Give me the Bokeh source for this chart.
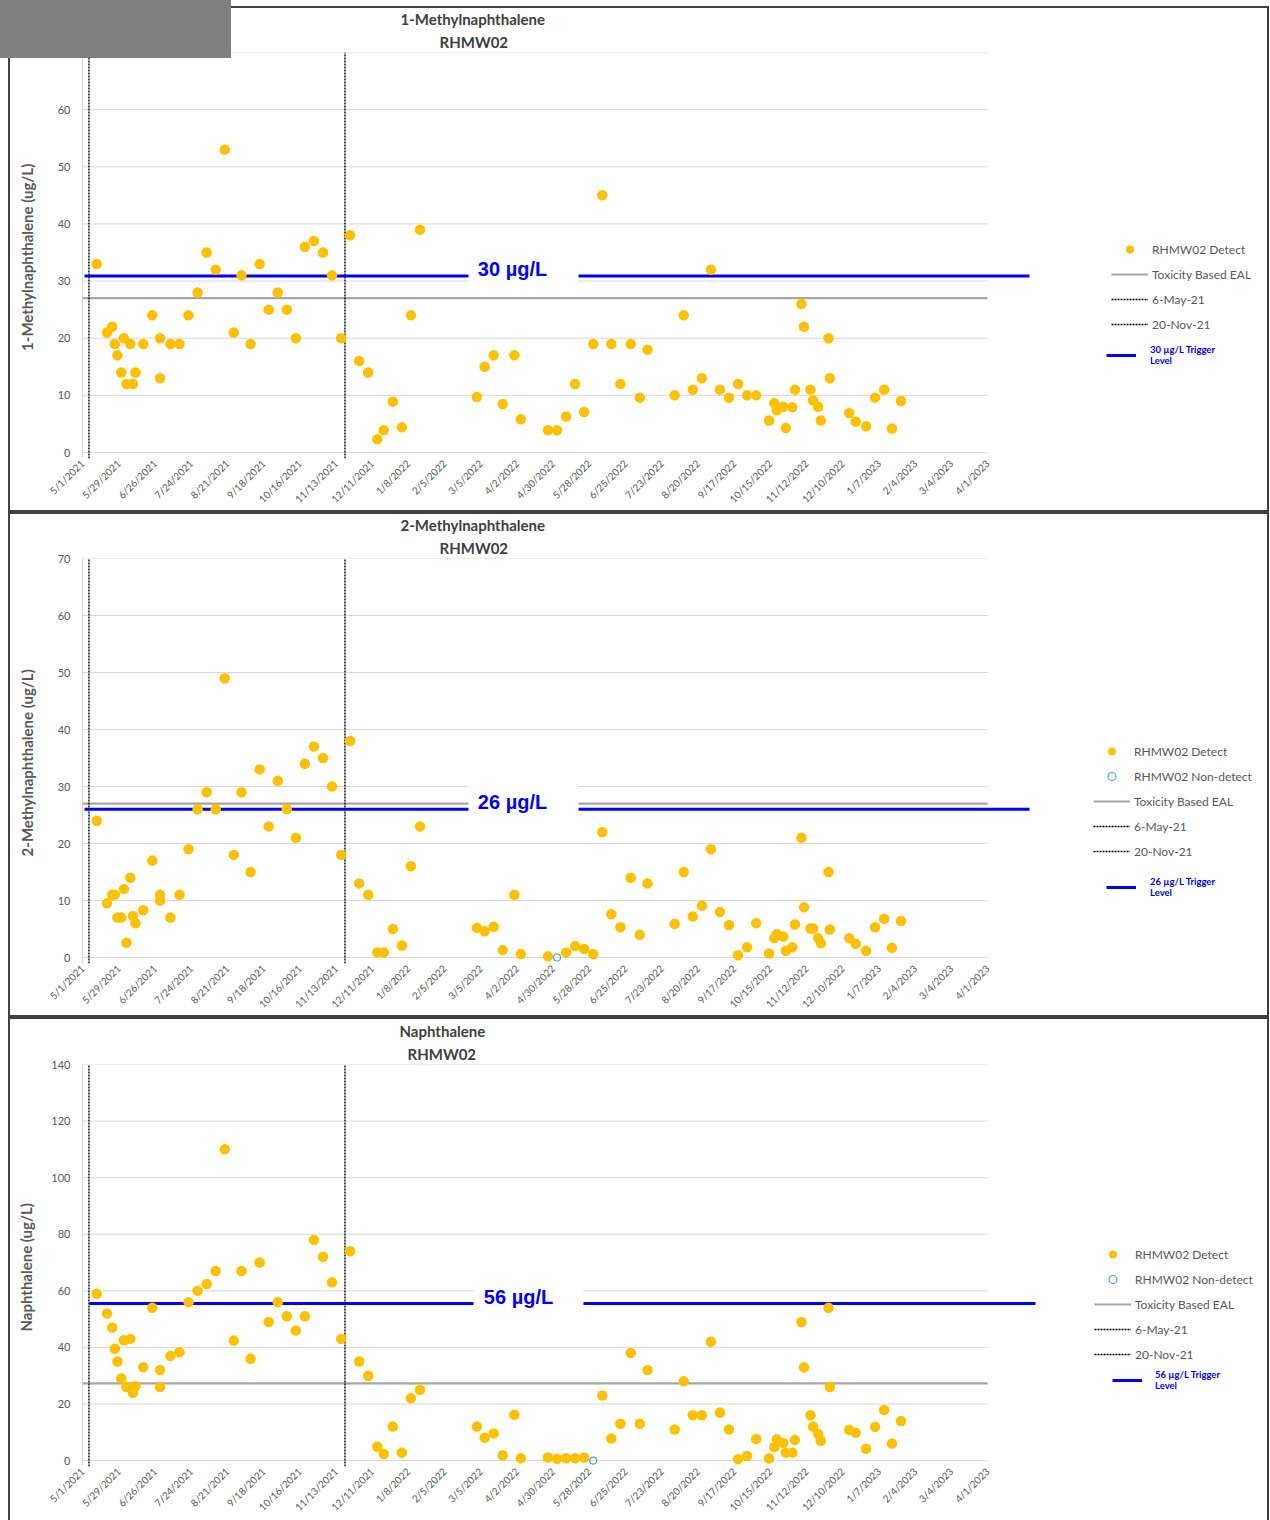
import math
import pandas as pd
from bokeh.plotting import figure
from bokeh.layouts import column
from bokeh.models import (Range1d, FixedTicker, Legend, LegendItem, Label, Title, Div,
                          BoxAnnotation, ColumnDataSource)
from bokeh.embed import file_html
from bokeh.resources import INLINE

# ---------------- data ----------------
well = "RHMW02"
chemicals = ["1-Methylnaphthalene", "2-Methylnaphthalene", "Naphthalene"]
y_axis_titles = ["1-Methylnaphthalene  (ug/L)", "2-Methylnaphthalene  (ug/L)", "Naphthalene  (ug/L)"]

sample_dates = [
    "2021-05-12", "2021-05-20", "2021-05-24", "2021-05-26", "2021-05-28", "2021-05-31", "2021-06-02", "2021-06-04", "2021-06-07", "2021-06-09",
    "2021-06-11", "2021-06-17", "2021-06-24", "2021-06-30", "2021-06-30", "2021-07-08", "2021-07-15", "2021-07-22", "2021-07-29", "2021-08-05",
    "2021-08-12", "2021-08-19", "2021-08-26", "2021-09-01", "2021-09-08", "2021-09-15", "2021-09-22", "2021-09-29", "2021-10-06", "2021-10-13",
    "2021-10-20", "2021-10-27", "2021-11-03", "2021-11-10", "2021-11-17", "2021-11-24", "2021-12-01", "2021-12-08", "2021-12-15", "2021-12-20",
    "2021-12-27", "2022-01-03", "2022-01-10", "2022-01-17", "2022-03-02", "2022-03-08", "2022-03-15", "2022-03-22", "2022-03-31", "2022-04-05",
    "2022-04-26", "2022-05-03", "2022-05-10", "2022-05-17", "2022-05-24", "2022-05-31", "2022-06-07", "2022-06-14", "2022-06-21", "2022-06-29",
    "2022-07-06", "2022-07-12", "2022-08-02", "2022-08-09", "2022-08-16", "2022-08-23", "2022-08-30", "2022-09-06", "2022-09-13", "2022-09-20",
    "2022-09-27", "2022-10-04", "2022-10-14", "2022-10-18", "2022-10-20", "2022-10-25", "2022-10-27", "2022-11-01", "2022-11-03", "2022-11-08",
    "2022-11-10", "2022-11-15", "2022-11-17", "2022-11-21", "2022-11-23", "2022-11-29", "2022-11-30", "2022-12-15", "2022-12-20", "2022-12-28",
    "2023-01-04", "2023-01-11", "2023-01-17", "2023-01-24",
]

methyl1_detect = [
    33, 21, 22, 19, 17, 14, 20, 12, 19, 12,
    14, 19, 24, 20, 13, 19, 19, 24, 28, 35,
    32, 53, 21, 31, 19, 33, 25, 28, 25, 20,
    36, 37, 35, 31, 20, 38, 16, 14, 2.3, 3.9,
    8.9, 4.4, 24, 39, 9.7, 15, 17, 8.5, 17, 5.8,
    3.9, 3.9, 6.3, 12, 7.1, 19, 45, 19, 12, 19,
    9.6, 18, 10, 24, 11, 13, 32, 11, 9.6, 12,
    10, 10, 5.6, 8.6, 7.4, 8, 4.3, 7.9, 11, 26,
    22, 11, 9.1, 8, 5.6, 20, 13, 6.9, 5.4, 4.6,
    9.6, 11, 4.2, 9,
]

methyl2_detect = [
    24, 9.5, 11, 11, 7, 7, 12, 2.6, 14, 7.3,
    6, 8.3, 17, 11, 10, 7, 11, 19, 26, 29,
    26, 49, 18, 29, 15, 33, 23, 31, 26, 21,
    34, 37, 35, 30, 18, 38, 13, 11, 0.9, 0.9,
    5, 2.1, 16, 23, 5.2, 4.6, 5.4, 1.3, 11, 0.6,
    0.2, None, 0.9, 2.0, 1.5, 0.6, 22, 7.6, 5.3, 14,
    4.0, 13, 5.9, 15, 7.2, 9.1, 19, 8.0, 5.7, 0.4,
    1.8, 6.0, 0.7, 3.4, 4.1, 3.7, 1.2, 1.8, 5.8, 21,
    8.8, 5.1, 5.1, 3.4, 2.5, 15, 4.9, 3.4, 2.4, 1.2,
    5.3, 6.8, 1.7, 6.4,
]

naph_detect = [
    59, 52, 47, 39.5, 35, 29, 42.5, 26, 43, 24,
    26.3, 33, 54, 32, 26, 37, 38.3, 56, 60, 62.4,
    67, 110, 42.4, 67, 36, 70, 49, 56, 51, 46,
    51, 78, 72, 63, 43, 74, 35, 30, 4.9, 2.3,
    12, 2.8, 22, 25, 12, 8.1, 9.6, 1.9, 16.2, 0.8,
    1.1, 0.6, 0.8, 0.8, 1.1, None, 23, 7.8, 13, 38,
    13, 32, 11, 28, 16, 16, 42, 17, 11, 0.5,
    1.6, 7.6, 0.7, 4.8, 7.5, 6.2, 2.8, 2.8, 7.3, 49,
    33, 16, 12, 9.4, 7, 54, 26, 10.9, 9.8, 4.2,
    11.9, 17.9, 6, 14,
]

methyl2_nondetect_dates = ["2022-05-03"]
methyl2_nondetect = [0.0]
naph_nondetect_dates = ["2022-05-31"]
naph_nondetect = [0.0]

x_tick_labels = ["5/1/2021", "5/29/2021", "6/26/2021", "7/24/2021", "8/21/2021", "9/18/2021",
                 "10/16/2021", "11/13/2021", "12/11/2021", "1/8/2022", "2/5/2022", "3/5/2022",
                 "4/2/2022", "4/30/2022", "5/28/2022", "6/25/2022", "7/23/2022", "8/20/2022",
                 "9/17/2022", "10/15/2022", "11/12/2022", "12/10/2022", "1/7/2023", "2/4/2023",
                 "3/4/2023", "4/1/2023"]

event_dates = ["2021-05-06", "2021-11-20"]
event_labels = ["6-May-21", "20-Nov-21"]

trigger_levels = [30, 26, 56]          # labelled trigger levels (ug/L)
trigger_line_y = [30.9, 26.0, 55.5]    # where the blue line is drawn in the picture
eal_levels = [27, 27, 27.3]            # Toxicity Based EAL line
y_max = [70, 70, 140]
y_step = [10, 10, 20]

detect_series = [methyl1_detect, methyl2_detect, naph_detect]
nondetect_series = [None, (methyl2_nondetect_dates, methyl2_nondetect), (naph_nondetect_dates, naph_nondetect)]

# ---------------- layout / style ----------------
FIG_W = 1270
FRAME_LEFT_PAGE = 82          # page x of the frame's left edge (5/1/2021)
BORDER_LEFT = FRAME_LEFT_PAGE
FRAME_W = FIG_W - BORDER_LEFT
PX_PER_DAY = 1.293
GRID_PX = 400                 # pixels from 0 to the top gridline
PAD_PX = 6                    # frame extension below zero
PANEL_H = [512, 505, 503]
PANEL_TOP = [52, 46, 47]
FONT = "Lato"
GRAY_TXT = "#595959"
GOLD = "#FFC000"
BLUE = "#0000FF"

TITLE_LEFT = [(400, 439), (400, 439), (399, 407)]
TITLE_STANDOFF = (2, 4)
TRIG_TEXT_X = [512, 512, 518]
TRIG_GAP = [(468, 578), (468, 578), (473, 583)]
TRIG_SPAN = [(84, 1029), (84, 1029), (89, 1035)]
LEGA_X = [1111, 1093, 1094]
LEGA_TOP = [239, 742, 1248]
LEGB_X = [1106, 1106, 1112]
LEGB_TOP = [342, 875, 1371]
LEGB_STANDOFF = [14, 14, 13]
YLABEL_STANDOFF = [19, 19, 13]
PANEL_BOXES = [(8, 6, 1269, 512), (8, 512, 1269, 1017), (8, 1017, 1269, 1524)]
REDACT_BOX = (0, 0, 231, 58)


def to_ms(values, fmt=None):
    ts = pd.to_datetime(pd.Series(values, dtype="object"), format=fmt)
    return [int((t - pd.Timestamp("1970-01-01")) // pd.Timedelta(milliseconds=1)) for t in ts]


tick_ms = to_ms(x_tick_labels, "%m/%d/%Y")
event_ms = to_ms(event_dates)
sample_ms = to_ms(sample_dates)
DAY_MS = 86400000.0
x_start = tick_ms[0]
x_end = x_start + FRAME_W / PX_PER_DAY * DAY_MS


def page_to_ms(px):
    return x_start + (px - FRAME_LEFT_PAGE) / PX_PER_DAY * DAY_MS


children = []
page_top = 0
for i in range(3):
    H = PANEL_H[i]
    top = PANEL_TOP[i]
    ppu = GRID_PX / y_max[i]
    ymin = -PAD_PX / ppu
    frame_h = GRID_PX + PAD_PX
    bottom = H - top - frame_h
    frame_bottom_page = page_top + top + frame_h

    def fx(px):
        return px - FRAME_LEFT_PAGE

    def fy(py, fb=frame_bottom_page):
        return fb - py

    p = figure(width=FIG_W, height=H, output_backend="svg", toolbar_location=None,
               x_axis_type="datetime", title=None,
               x_range=Range1d(x_start, x_end), y_range=Range1d(ymin, y_max[i]),
               min_border_left=BORDER_LEFT, min_border_right=0,
               min_border_top=top, min_border_bottom=bottom)
    p.xgrid.visible = False
    p.ygrid.visible = False
    p.outline_line_color = None
    p.background_fill_color = "white"
    p.border_fill_color = "white"

    # axes
    yt = list(range(0, y_max[i] + 1, y_step[i]))
    p.yaxis.ticker = FixedTicker(ticks=yt)
    p.yaxis.axis_line_color = "#D9D9D9"
    p.yaxis.major_tick_line_color = None
    p.yaxis.minor_tick_line_color = None
    p.yaxis.major_label_text_color = GRAY_TXT
    p.yaxis.major_label_text_font = FONT
    p.yaxis.major_label_text_font_size = "11px"
    p.yaxis.major_label_standoff = 6
    p.yaxis.axis_label = y_axis_titles[i]
    p.yaxis.axis_label_text_font = FONT
    p.yaxis.axis_label_text_font_style = "bold"
    p.yaxis.axis_label_text_font_size = "15px"
    p.yaxis.axis_label_text_color = GRAY_TXT
    p.yaxis.axis_label_standoff = YLABEL_STANDOFF[i]

    p.xaxis.ticker = FixedTicker(ticks=tick_ms)
    p.xaxis.major_label_overrides = {ms: lab for ms, lab in zip(tick_ms, x_tick_labels)}
    p.xaxis.major_label_orientation = math.pi / 4
    p.xaxis.axis_line_color = None
    p.xaxis.major_tick_line_color = None
    p.xaxis.minor_tick_line_color = None
    p.xaxis.major_label_text_color = GRAY_TXT
    p.xaxis.major_label_text_font = FONT
    p.xaxis.major_label_text_font_size = "10px"
    p.xaxis.major_label_standoff = -3

    # titles (inner line first: it sits closest to the plot)
    for txt, left, so in zip([well, chemicals[i]], reversed(TITLE_LEFT[i]), reversed(TITLE_STANDOFF)):
        p.add_layout(Title(text=txt, align="left", offset=left - FRAME_LEFT_PAGE, standoff=so,
                           text_font=FONT, text_font_style="bold", text_font_size="15px",
                           text_color="#404040"), "above")

    # gridlines
    p.segment(x0=[tick_ms[0]] * len(yt), x1=[tick_ms[-1]] * len(yt), y0=yt, y1=yt,
              line_color="#D9D9D9", line_width=1)

    # EAL line
    r_eal = p.segment(x0=[tick_ms[0]], x1=[tick_ms[-1]], y0=[eal_levels[i]], y1=[eal_levels[i]],
                      line_color="#A6A6A6", line_width=2.2)

    # event lines
    r_events = []
    for ems in event_ms:
        r = p.segment(x0=[ems], x1=[ems], y0=[ymin], y1=[y_max[i]], line_color="black",
                      line_width=1.4, line_dash="2 1")
        r_events.append(r)

    # trigger line
    t0, t1 = TRIG_SPAN[i]
    r_trig = p.segment(x0=[page_to_ms(t0)], x1=[page_to_ms(t1)],
                       y0=[trigger_line_y[i]], y1=[trigger_line_y[i]],
                       line_color=BLUE, line_width=3)

    # non-detects
    r_nd = None
    if nondetect_series[i] is not None:
        nd_dates, nd_vals = nondetect_series[i]
        r_nd = p.scatter(x="x", y="y",
                         source=ColumnDataSource(dict(x=to_ms(nd_dates), y=list(nd_vals))),
                         size=7, fill_color=None, line_color="#5B9BD5", line_width=1.2)

    # detects
    xs = [x for x, v in zip(sample_ms, detect_series[i]) if v is not None]
    ys = [v for v in detect_series[i] if v is not None]
    r_det = p.scatter(x="x", y="y", source=ColumnDataSource(dict(x=xs, y=ys)),
                      size=10.5, fill_color=GOLD, line_color=None)

    # white text box over the trigger line + label
    line_px = (trigger_line_y[i] - ymin) * ppu
    g0, g1 = TRIG_GAP[i]
    p.add_layout(BoxAnnotation(left=fx(g0), right=fx(g1), bottom=line_px + 7 - 18, top=line_px + 7 + 18,
                               left_units="screen", right_units="screen",
                               bottom_units="screen", top_units="screen",
                               fill_color="white", fill_alpha=1, line_color=None))
    p.add_layout(Label(x=fx(TRIG_TEXT_X[i]), y=trigger_line_y[i], x_units="screen", y_units="data",
                       y_offset=7, text=f"{trigger_levels[i]} µg/L", text_align="center",
                       text_baseline="middle", text_font="Liberation Sans", text_font_style="bold",
                       text_font_size="20px", text_color=BLUE))

    # legends
    items = [LegendItem(label=f"{well} Detect", renderers=[r_det])]
    if r_nd is not None:
        items.append(LegendItem(label=f"{well} Non-detect", renderers=[r_nd]))
    items.append(LegendItem(label="Toxicity Based EAL", renderers=[r_eal]))
    for lab, r in zip(event_labels, r_events):
        items.append(LegendItem(label=lab, renderers=[r]))
    n = len(items)
    legA_h = n * 20 + (n - 1) * 5
    legA = Legend(items=items, location=(fx(LEGA_X[i]), fy(LEGA_TOP[i] + legA_h)),
                  orientation="vertical", label_text_font=FONT, label_text_font_size="12px",
                  label_text_color=GRAY_TXT, glyph_width=37, glyph_height=20, label_height=20,
                  label_standoff=4, spacing=5, padding=0, margin=0,
                  border_line_color=None, background_fill_alpha=0)
    p.add_layout(legA)
    legB = Legend(items=[LegendItem(label=f"{trigger_levels[i]} µg/L Trigger\nLevel", renderers=[r_trig])],
                  location=(fx(LEGB_X[i]), fy(LEGB_TOP[i] + 24)),
                  label_text_font=FONT, label_text_font_size="9.5px", label_text_font_style="bold",
                  label_text_color=BLUE, glyph_width=30, glyph_height=12, label_height=12,
                  label_standoff=LEGB_STANDOFF[i], padding=0, margin=0,
                  border_line_color=None, background_fill_alpha=0)
    p.add_layout(legB)

    children.append(p)
    page_top += H

# panel frames and the grey block in the top-left corner (page overlays)
for (l, t, r, b) in PANEL_BOXES:
    children.append(Div(text="", width=r - l, height=b - t, margin=0,
                        styles={"position": "absolute", "left": f"{l}px", "top": f"{t}px",
                                "margin": "0px",
                                "width": f"{r - l}px", "height": f"{b - t}px",
                                "border": "2px solid #404040", "box-sizing": "border-box",
                                "background": "transparent", "pointer-events": "none",
                                "z-index": "5"}))
l, t, r, b = REDACT_BOX
children.append(Div(text="", width=r - l, height=b - t, margin=0,
                    styles={"position": "absolute", "left": f"{l}px", "top": f"{t}px",
                            "margin": "0px",
                            "width": f"{r - l}px", "height": f"{b - t}px",
                            "background-color": "#808080", "z-index": "6"}))

layout = column(*children, spacing=0)
open("out.html", "w").write(file_html(layout, INLINE))
